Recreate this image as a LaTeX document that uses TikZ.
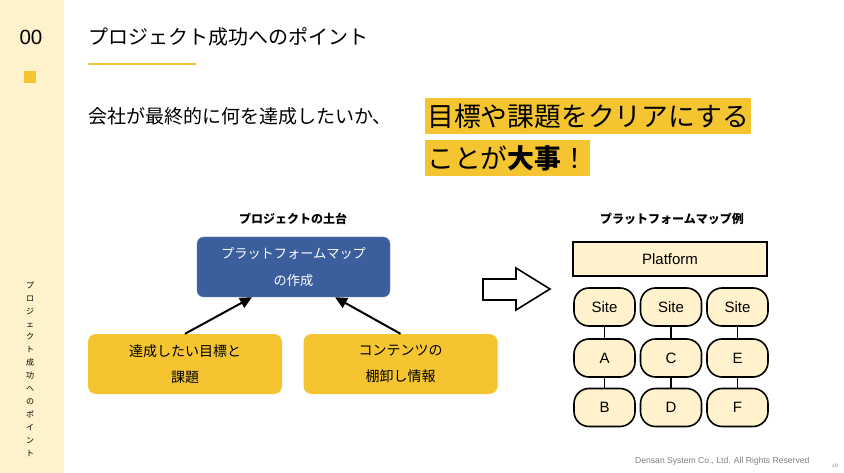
\documentclass[tikz,border=0pt]{standalone}
\usepackage{fontspec}
\usepackage{tikz}
\usetikzlibrary{arrows.meta}
\setmainfont{Liberation Sans}
\newfontfamily\jp{Noto Sans CJK JP}

\definecolor{sidecream}{HTML}{FEF2CD}
\definecolor{keyyellow}{HTML}{F4C531}
\definecolor{mapblue}{HTML}{3A5F9C}
\definecolor{mapcream}{HTML}{FFF2CC}

\tikzset{
  goalbox/.style={fill=keyyellow, rounded corners=8pt, minimum width=194pt, minimum height=60pt,
    align=center, font=\jp\fontsize{14}{26}\selectfont},
  markbox/.style={fill=keyyellow, anchor=west, inner xsep=2pt, inner ysep=0pt, minimum height=36pt,
    font=\jp\fontsize{26.8}{30}\selectfont},
  sitebox/.style={draw, line width=1.6pt, fill=mapcream, rounded corners=15pt, minimum width=61pt,
    minimum height=38pt, font=\fontsize{15}{18}\selectfont},
  linkline/.style={line width=1.6pt},
  headtext/.style={font=\jp\bfseries\fontsize{12}{14}\selectfont}
}

\begin{document}
\begin{tikzpicture}[x=1pt, y=-1pt]
\useasboundingbox (0,0) rectangle (844,473);
\fill[white] (0,0) rectangle (844,473);

% side band
\fill[sidecream] (0,0) rectangle (64,473);
\node (num) at (31,37) {\fontsize{20.5}{24}\selectfont 00};
\fill[keyyellow] (24,71) rectangle (36,83);
\node[align=center, inner sep=0pt, font=\jp\fontsize{8}{12.9}\selectfont] (sidetitle) at (30,369)
  {プ\\ロ\\ジ\\ェ\\ク\\ト\\成\\功\\へ\\の\\ポ\\イ\\ン\\ト};

% title
\node[anchor=west, inner sep=0pt] (title) at (88,37) {\jp\fontsize{20}{24}\selectfont プロジェクト成功へのポイント};
\draw[keyyellow, line width=2.5pt] (88,64) -- (196,64);

\node[anchor=west, inner sep=0pt] (lead) at (88,116) {\jp\fontsize{19}{22}\selectfont 会社が最終的に何を達成したいか、};
\node[markbox] (mark1) at (425,116) {目標や課題をクリアにする};
\node[markbox] (mark2) at (425,158.5) {ことが\textbf{大事}！};

% left: project base
\node[headtext] (basehead) at (293,219) {プロジェクトの土台};
\node[fill=mapblue, draw=mapblue!85!white, rounded corners=7pt, minimum width=193pt, minimum height=60pt,
  align=center, text=white, font=\jp\fontsize{13.2}{27}\selectfont] (mapmake) at (293.5,267)
  {プラットフォームマップ\\の作成};
\node[goalbox] (goal) at (185,364) {達成したい目標と\\課題};
\node[goalbox] (stock) at (400.5,364) {コンテンツの\\棚卸し情報};
\draw[line width=2pt, -{Triangle[length=12pt, width=11pt]}] (goal.north) -- ([xshift=-41.5pt]mapmake.south);
\draw[line width=2pt, -{Triangle[length=12pt, width=11pt]}] (stock.north) -- ([xshift=41.5pt]mapmake.south);

% block arrow
\draw[line width=1.6pt, line join=miter] (483,279) -- (516,279) -- (516,268) -- (550,289) -- (516,310)
  -- (516,300) -- (483,300) -- cycle;

% right: map example
\node[headtext] (exhead) at (672,219) {プラットフォームマップ例};
\node[draw, line width=1.6pt, fill=mapcream, minimum width=194pt, minimum height=34pt,
  font=\fontsize{15}{18}\selectfont] (platform) at (670,259) {Platform};

\node[sitebox] (site1) at (604.5,307) {Site};
\node[sitebox] (site2) at (671,307) {Site};
\node[sitebox] (site3) at (737.5,307) {Site};
\node[sitebox] (a) at (604.5,358) {A};
\node[sitebox] (c) at (671,358) {C};
\node[sitebox] (e) at (737.5,358) {E};
\node[sitebox] (b) at (604.5,407.5) {B};
\node[sitebox] (d) at (671,407.5) {D};
\node[sitebox] (f) at (737.5,407.5) {F};
\draw[linkline] (site1) -- (a);
\draw[linkline] (a) -- (b);
\draw[linkline] (site2) -- (c);
\draw[linkline] (c) -- (d);
\draw[linkline] (site3) -- (e);
\draw[linkline] (e) -- (f);

% footer
\node[anchor=east, text=black!50, font=\fontsize{8.6}{10}\selectfont] (copy) at (813,461)
  {Densan System Co., Ltd. All Rights Reserved};
\node[text=black!50, font=\fontsize{5}{6}\selectfont] (page) at (835,466) {19};
\end{tikzpicture}
\end{document}
